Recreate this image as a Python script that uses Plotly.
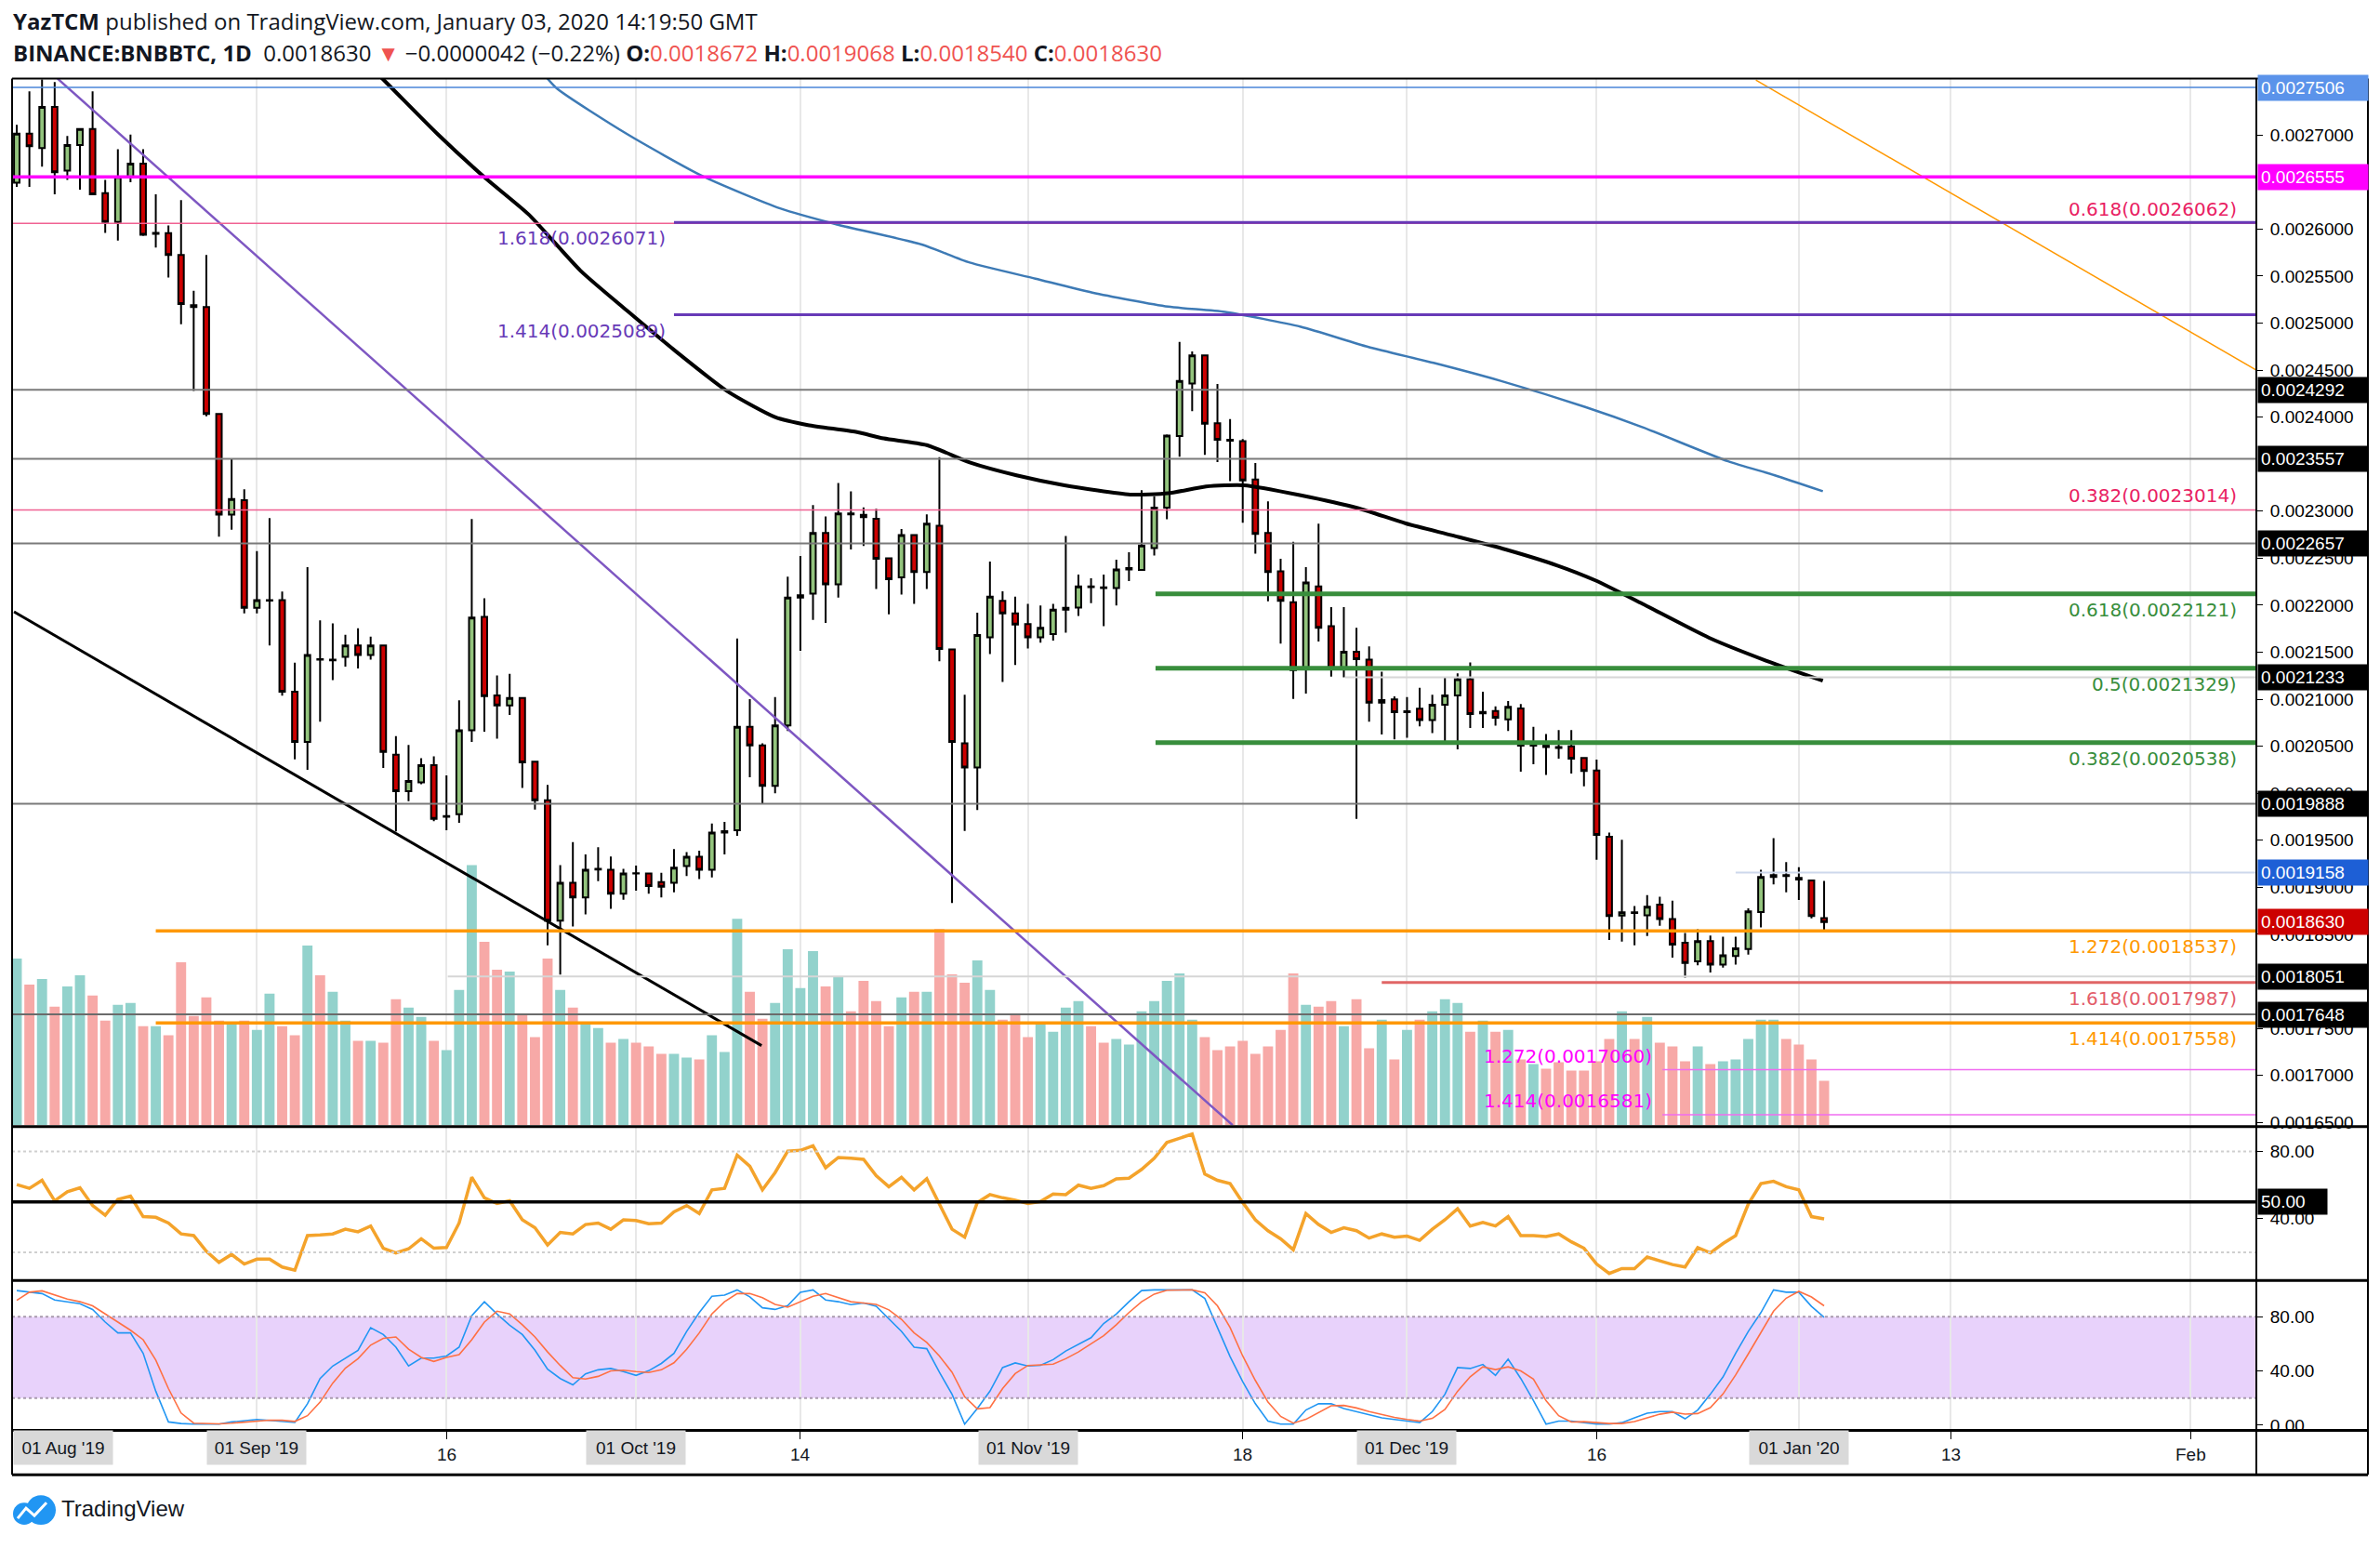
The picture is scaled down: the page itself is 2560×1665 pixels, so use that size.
import numpy as np
import pandas as pd
import plotly.graph_objects as go

W, H = 2560, 1665
START = pd.Timestamp("2019-08-13")
N = 144
dates = pd.date_range(START, periods=N, freq="D")

# ---------------- data (prices in units of 1e-7 BTC) ----------------
open_e7 = [26493, 27016, 26862, 27299, 26622, 26893, 27065, 26383, 26075, 26555,
           26696, 25950, 25958, 25725, 25190, 25171, 24034, 22963, 23117, 21973,
           22050, 22053, 21081, 20545, 21425, 21415, 21450, 21573, 21470, 21573,
           20411, 20023, 20116, 20299, 19750, 19777, 20669, 21876, 21040, 20935,
           21014, 20335, 19925, 18646, 19049, 18892, 19190, 19187, 18931, 19150,
           19148, 19056, 19049, 19226, 19325, 19187, 19581, 19607, 20706, 20509,
           20080, 20722, 22080, 22122, 22769, 22221, 22975, 22960, 22919, 22500,
           22297, 22746, 22352, 22845, 21529, 20531, 20275, 21658, 22047, 21913,
           21800, 21658, 21693, 21952, 21974, 22200, 22190, 22183, 22380, 22376,
           22607, 23037, 23800, 24359, 24657, 23935, 23759, 23744, 23336, 22769,
           22360, 22031, 21327, 22200, 21777, 21327, 21505, 21421, 20963, 20998,
           20862, 20899, 20778, 20942, 21040, 21214, 20850, 20876, 20785, 20902,
           20506, 20509, 20493, 20500, 20375, 20243, 19538, 18700, 18734, 18702,
           18817, 18663, 18410, 18213, 18427, 18177, 18269, 18344, 18738, 19111,
           19131, 19100, 19072, 18672]
high_e7 = [27108, 27465, 27590, 27563, 26991, 27065, 27465, 26524, 26850, 27004,
           26850, 26370, 26038, 26309, 25343, 25725, 24034, 23560, 23234, 22576,
           22926, 22145, 21390, 22405, 21838, 21807, 21686, 21755, 21666, 21573,
           20608, 20515, 20374, 20392, 20191, 20988, 22916, 22073, 21253, 21270,
           21014, 20335, 20089, 19236, 19482, 19351, 19426, 19328, 19197, 19230,
           19148, 19154, 19407, 19374, 19390, 19679, 19696, 21647, 21000, 20532,
           21024, 22303, 22523, 23064, 22943, 23300, 23212, 23041, 23025, 22500,
           22811, 22746, 22966, 23573, 21539, 21049, 21920, 22464, 22149, 22090,
           22014, 21997, 22014, 22736, 22326, 22287, 22326, 22484, 22562, 23223,
           23159, 23817, 24800, 24698, 24657, 24353, 23979, 23766, 23512, 23105,
           22495, 22675, 22405, 22867, 21981, 21981, 21760, 21563, 21293, 21031,
           21024, 21123, 21047, 21237, 21276, 21391, 21079, 20925, 20981, 20948,
           20706, 20630, 20673, 20673, 20375, 20358, 19581, 19505, 18800, 18918,
           18899, 18859, 18515, 18555, 18488, 18475, 18475, 18777, 19187, 19522,
           19269, 19213, 19072, 19068]
low_e7 = [26449, 26449, 26665, 26370, 26524, 26419, 26370, 25959, 25878, 26499,
          25927, 25804, 25485, 24987, 24279, 24009, 22730, 22803, 21913, 21913,
          21573, 21037, 20362, 20250, 20762, 21204, 21346, 21327, 21420, 20270,
          19594, 19915, 20097, 19704, 19606, 19685, 20545, 20656, 20581, 20834,
          20056, 19827, 18383, 18072, 18583, 18712, 19066, 18771, 18869, 18964,
          18931, 18892, 18948, 19121, 19089, 19105, 19351, 19548, 20171, 19892,
          20001, 20663, 21516, 21844, 21811, 22080, 22592, 22631, 22172, 21903,
          22113, 22015, 22172, 21404, 18833, 19600, 19822, 21480, 21185, 21364,
          21539, 21601, 21625, 21709, 21885, 22021, 21777, 21997, 22257, 22376,
          22528, 22913, 23580, 24064, 23598, 23522, 23320, 22878, 22549, 22041,
          21591, 21004, 21061, 21614, 21241, 21234, 19727, 20761, 20625, 20574,
          20591, 20712, 20640, 20522, 20466, 20695, 20695, 20719, 20663, 20230,
          20309, 20194, 20368, 20210, 20073, 19292, 18439, 18423, 18383, 18482,
          18590, 18252, 18039, 18170, 18095, 18147, 18177, 18285, 18574, 19030,
          18948, 18865, 18669, 18540]
close_e7 = [27016, 26881, 27299, 26604, 26893, 27065, 26370, 26075, 26555, 26696,
            25940, 25960, 25725, 25202, 25171, 24034, 22963, 23130, 21973, 22053,
            22055, 21081, 20545, 21470, 21420, 21420, 21573, 21470, 21573, 20440,
            20023, 20132, 20299, 19728, 19758, 20669, 21868, 21034, 20935, 21014,
            20328, 19925, 18646, 19049, 18892, 19187, 19197, 18931, 19148, 19148,
            19013, 19007, 19210, 19325, 19187, 19581, 19597, 20706, 20509, 20080,
            20722, 22080, 22107, 22769, 22221, 22975, 22966, 22936, 22493, 22277,
            22746, 22352, 22867, 21534, 20547, 20275, 21683, 22090, 21913, 21795,
            21658, 21760, 21952, 21972, 22200, 22193, 22183, 22380, 22395, 22634,
            23037, 23804, 24385, 24657, 23929, 23759, 23749, 23326, 22759, 22352,
            22047, 21309, 22241, 21760, 21327, 21505, 21427, 20963, 20991, 20862,
            20872, 20778, 20942, 21040, 21214, 20843, 20866, 20804, 20919, 20506,
            20509, 20493, 20483, 20368, 20237, 19558, 18695, 18734, 18728, 18794,
            18663, 18390, 18196, 18427, 18177, 18276, 18350, 18744, 19111, 19131,
            19121, 19082, 18695, 18630]
volume_k = [180, 152, 158, 128, 150, 162, 140, 113, 130, 132,
            107, 107, 97, 176, 118, 138, 113, 111, 113, 103,
            142, 107, 97, 194, 162, 144, 113, 91, 91, 89,
            136, 127, 117, 91, 81, 146, 281, 198, 168, 166,
            119, 95, 180, 146, 127, 111, 105, 89, 93, 89,
            85, 77, 77, 73, 71, 97, 79, 223, 144, 115,
            132, 190, 148, 188, 150, 160, 123, 156, 134, 107,
            138, 144, 144, 212, 163, 154, 178, 146, 114, 120,
            95, 111, 101, 127, 134, 107, 89, 93, 87, 123,
            134, 156, 164, 114, 95, 81, 85, 91, 77, 85,
            103, 164, 130, 128, 134, 107, 136, 83, 114, 71,
            103, 114, 123, 136, 132, 101, 113, 101, 103, 71,
            66, 61, 68, 59, 59, 69, 93, 123, 93, 117,
            89, 85, 69, 85, 66, 69, 71, 93, 114, 114,
            93, 87, 71, 48]
rsi = [60.3, 58, 62.8, 50.6, 56, 58.4, 47.8, 42, 51.5, 53.4,
       41.2, 40.8, 37.4, 30.9, 29.9, 20.6, 14, 18.7, 13, 15.9,
       15.9, 11.2, 9.3, 29.9, 30.3, 30.9, 33.7, 32.2, 35.6, 22.4,
       19.6, 22, 28, 22.4, 22.8, 37.4, 64.6, 52.4, 49, 50.6,
       39.3, 34.6, 24.3, 31.8, 30.9, 36.5, 37.4, 33.7, 39.3, 38.9,
       37, 37.4, 44, 47.8, 43, 57.1, 58, 77.8, 71.2, 57.1,
       67.4, 80.2, 80.6, 83.4, 70.3, 76.4, 75.9, 75.3, 65.6, 59,
       64.6, 57.1, 63.7, 48.7, 33.7, 29, 49.6, 54.3, 52.4, 51,
       49, 50.2, 54.7, 54.3, 59.9, 58, 59.6, 63.7, 64.1, 69.3,
       75.9, 85.3, 88, 90.3, 66.5, 62.8, 60.9, 49.6, 39.3, 32.8,
       28, 21.5, 43, 36.5, 31.8, 34.6, 32.8, 28.4, 30.9, 29,
       29.6, 27.1, 33.7, 39.3, 45.9, 35.6, 37.8, 35.6, 41.2, 29.9,
       29.9, 29.4, 30.9, 26.2, 22.4, 13, 7.4, 10.3, 10.3, 17.2,
       14.9, 12.7, 11.2, 22.8, 19.6, 25.2, 29.9, 48.7, 60.9, 62.2,
       59, 57.1, 41.2, 39.9]
stoch_k = [99.2, 98, 97, 92.3, 91, 89.5, 85.3, 76, 68, 68,
           53, 25, 2.4, 1.2, 0.8, 0.8, 0.8, 2.4, 3.5, 4.2,
           3.5, 3, 2, 15.8, 34.4, 43.6, 49.4, 55.2, 71.9, 66.8,
           57.5, 43.6, 49.4, 49.4, 51, 57.5, 80.7, 91, 81.9, 73.7,
           66.8, 55.2, 41.3, 34.4, 29.7, 37.8, 40.8, 41.8, 39.5, 36.7,
           40.1, 45.5, 52.9, 69.1, 83, 95, 95.8, 99.7, 94.6, 86.5,
           85.3, 88.1, 98, 99.7, 92.3, 91, 88.8, 90, 87.6, 78.4,
           69.1, 57.5, 56.4, 39, 22.8, 0.8, 12.3, 25.1, 42.5, 45.9,
           43.6, 44.1, 48.3, 54.7, 59.8, 64.5, 74.9, 81.9, 91, 99.2,
           99.7, 99.7, 99.7, 99.7, 93.4, 71.4, 50.6, 32, 15.8, 3,
           0.8, 0.8, 11.2, 15.8, 15.8, 12.3, 10, 7.7, 5.4, 4.2,
           3, 1.9, 10, 22.8, 42.5, 41.8, 44.8, 36.7, 48.7, 34.4,
           18.2, 0.8, 3, 3, 1.9, 0.8, 0.8, 1.9, 5.4, 8.9,
           10, 10, 4.7, 11.2, 22.8, 35.5, 52.9, 69.1, 83, 99.7,
           98, 98, 87.6, 79.5]
stoch_d = [92, 98, 99, 96, 93, 91, 88, 82, 76, 70,
           63, 48, 27, 9, 1.5, 1, 1, 1.5, 2.2, 3.4,
           3.7, 3.6, 2.8, 7, 17, 31, 42, 49, 59, 64,
           65, 56, 50, 47, 50, 52, 63, 76, 84, 82,
           74, 65, 54, 44, 35, 34, 36, 40, 40.5, 39.5,
           38.8, 40.8, 46, 56, 68, 82, 91, 97, 97, 94,
           89, 87, 91, 95, 97, 94, 91, 90, 89, 85,
           78, 68, 61, 51, 39, 21, 12, 13, 27, 38,
           44, 44.5, 45, 49, 54, 60, 66, 74, 83, 91,
           96.6, 99.5, 99.7, 99.7, 97.6, 88, 72, 51, 33, 17,
           6.5, 1.5, 4.3, 9.3, 14.3, 14.6, 12.7, 10, 7.7, 5.8,
           4.2, 3, 5, 11.6, 25, 35.7, 43, 41, 43, 40,
           34, 18, 7, 2.3, 2.6, 1.9, 1.2, 1.2, 2.7, 5.4,
           8.1, 9.6, 8.2, 8.6, 12.9, 23, 37, 52.5, 68, 84,
           93.6, 98.6, 94.5, 88]

# moving averages (x = days after first candle)
ma_black_day = [28.0, 29.2, 33.3, 37.1, 40.5, 44.6, 48.3, 52.1, 56.2, 60.0, 62.6, 66.4,
                68.6, 72.0, 75.4, 79.1, 82.9, 88.1, 91.1, 94.1, 97.1, 101.6, 106.1,
                109.9, 113.6, 117.8, 121.9, 124.9, 128.6, 133.9, 138.4, 142.9]
ma_black_e7 = [27720, 27564, 27010, 26540, 26156, 25558, 25131, 24705, 24278, 24001, 23916,
               23843, 23774, 23703, 23519, 23382, 23276, 23177, 23190, 23263, 23276, 23169,
               23033, 22870, 22742, 22593, 22422, 22264, 22017, 21654, 21411, 21197]
ma_blue_day = [41.5, 42.7, 48.3, 54.3, 60.4, 64.9, 71.6, 75.4, 80.6, 85.1, 91.1, 95.6,
               101.6, 106.9, 112.1, 117.4, 124.1, 128.6, 135.4, 139.1, 142.9]
ma_blue_e7 = [27680, 27500, 27010, 26561, 26220, 26049, 25836, 25644, 25473, 25324, 25175,
              25119, 24961, 24748, 24577, 24386, 24108, 23895, 23531, 23382, 23212]

# trend lines (day offset, price e7)
trend_purple = [(3.23, 27600), (96.2, 16471)]
trend_black = [(-0.22, 21930), (58.93, 17317)]
trend_orange = [(137.6, 27585), (177.2, 24500)]

# price-axis ticks (those fully hidden under price tags in the reference are left out)
price_ticks = [0.00165, 0.0017, 0.00175, 0.00185, 0.0019, 0.00195, 0.002,
               0.00205, 0.0021, 0.00215, 0.0022, 0.00225, 0.0023, 0.0024,
               0.00245, 0.0025, 0.00255, 0.0026, 0.0027]

month_labels = ["01 Sep '19", "01 Oct '19", "01 Nov '19", "01 Dec '19", "01 Jan '20"]
month_dates = ["2019-09-01", "2019-10-01", "2019-11-01", "2019-12-01", "2020-01-01"]
day_labels = ["16", "14", "18", "16", "13", "Feb"]
day_dates = ["2019-09-16", "2019-10-14", "2019-11-18", "2019-12-16", "2020-01-13", "2020-02-01"]

# ---------------- helpers ----------------
E7 = 1e-7
o = np.array(open_e7) * E7
hi = np.array(high_e7) * E7
lo = np.array(low_e7) * E7
c = np.array(close_e7) * E7


def day(d):
    return START + pd.to_timedelta(d, unit="D")


def fx(px):
    return px / W


def fy(py):
    return 1 - py / H


X0 = day(-0.37)
X1 = day(177.2)
X_DOM = [fx(13), fx(2427)]
MAIN_DOM = [fy(1216), fy(85)]
RSI_DOM = [fy(1383), fy(1219)]
STO_DOM = [fy(1545), fy(1385)]
P_RANGE = [0.0016471, 0.00276]

AX_FONT = dict(family="Liberation Sans", size=19, color="#000000")

fig = go.Figure()

vol_colors = ["#92d2cc" if cc >= oo else "#f7a9a7" for oo, cc in zip(o, c)]
fig.add_trace(go.Bar(x=dates, y=volume_k, marker=dict(color=vol_colors, line=dict(width=0)),
                     xaxis="x", yaxis="y", hoverinfo="skip"))

fig.add_trace(go.Candlestick(
    x=dates, open=o, high=hi, low=lo, close=c, xaxis="x", yaxis="y2",
    increasing=dict(line=dict(color="#000000", width=2), fillcolor="#93c47d"),
    decreasing=dict(line=dict(color="#000000", width=2), fillcolor="#cc0000"),
    whiskerwidth=0))

fig.add_trace(go.Scatter(x=day(np.array(ma_blue_day)), y=np.array(ma_blue_e7) * E7,
                         mode="lines", line=dict(color="#3d7ab5", width=2.5, shape="spline", smoothing=0.6),
                         xaxis="x", yaxis="y2"))
fig.add_trace(go.Scatter(x=day(np.array(ma_black_day)), y=np.array(ma_black_e7) * E7,
                         mode="lines", line=dict(color="#000000", width=4, shape="spline", smoothing=0.6),
                         xaxis="x", yaxis="y2"))

for pts, col, wd in [(trend_purple, "#7e57c2", 2.5), (trend_black, "#000000", 3),
                     (trend_orange, "#ff9800", 1.5)]:
    fig.add_trace(go.Scatter(x=[day(p[0]) for p in pts], y=[p[1] * E7 for p in pts],
                             mode="lines", line=dict(color=col, width=wd),
                             xaxis="x", yaxis="y2"))

fig.add_trace(go.Scatter(x=dates, y=rsi, mode="lines", line=dict(color="#f4a32b", width=3.5),
                         xaxis="x2", yaxis="y3"))
fig.add_trace(go.Scatter(x=dates, y=stoch_k, mode="lines", line=dict(color="#2196f3", width=1.6),
                         xaxis="x3", yaxis="y4"))
fig.add_trace(go.Scatter(x=dates, y=stoch_d, mode="lines", line=dict(color="#ff7043", width=1.6),
                         xaxis="x3", yaxis="y4"))

shapes = []
# stoch band
shapes.append(dict(type="rect", xref="paper", yref="y4", x0=X_DOM[0], x1=X_DOM[1], y0=20, y1=80,
                   fillcolor="#e8d2fb", line=dict(width=0), layer="below"))
for lvl in (20, 80):
    shapes.append(dict(type="line", xref="paper", yref="y4", x0=X_DOM[0], x1=X_DOM[1], y0=lvl, y1=lvl,
                       line=dict(color="#a99aae", width=2, dash="dot")))
    shapes.append(dict(type="line", xref="paper", yref="y3", x0=X_DOM[0], x1=X_DOM[1], y0=lvl, y1=lvl,
                       line=dict(color="#cfcfcf", width=2, dash="dot")))
shapes.append(dict(type="line", xref="paper", yref="y3", x0=X_DOM[0], x1=fx(2427), y0=50, y1=50,
                   line=dict(color="#000000", width=3.5)))

# horizontal price levels: (price, start day or None, colour, width)
levels = [
    (0.0027506, None, "#4a86d8", 1.5),
    (0.0026555, None, "#ff00ff", 3.5),
    (0.0026062, None, "#f06292", 1.5),
    (0.0026071, 52.0, "#673ab7", 3),
    (0.0025089, 52.0, "#673ab7", 3),
    (0.0024292, None, "#7a7a7a", 2),
    (0.0023557, None, "#7a7a7a", 2),
    (0.0023014, None, "#f06292", 1.5),
    (0.0022657, None, "#7a7a7a", 2),
    (0.0022121, 90.1, "#388e3c", 5),
    (0.0021329, 90.1, "#388e3c", 5),
    (0.0020538, 90.1, "#388e3c", 5),
    (0.0021233, 105.1, "#d6d6d6", 2),
    (0.0019888, None, "#7a7a7a", 2),
    (0.0019158, 136.0, "#cdd8ec", 2),
    (0.0018537, 11.0, "#ff9800", 3.5),
    (0.0018051, 34.1, "#d6d6d6", 2),
    (0.0017987, 108.0, "#e06666", 3),
    (0.0017648, None, "#6b6b6b", 2),
    (0.0017558, 11.0, "#ff9800", 3.5),
    (0.0017060, 130.2, "#f06cf0", 1.5),
    (0.0016581, 130.2, "#f06cf0", 1.5),
]
for price, sd, col, wd in levels:
    xs = X0 if sd is None else day(sd)
    shapes.append(dict(type="line", xref="x", yref="y2", x0=xs, x1=X1, y0=price, y1=price,
                       line=dict(color=col, width=wd)))

# frame / panel separators
def hline(py, x0=13, x1=2547, w=2.5):
    return dict(type="line", xref="paper", yref="paper", x0=fx(x0), x1=fx(x1), y0=fy(py), y1=fy(py),
                line=dict(color="#000000", width=w))


def vline(px, y0=85, y1=1594, w=2):
    return dict(type="line", xref="paper", yref="paper", x0=fx(px), x1=fx(px), y0=fy(y0), y1=fy(y1),
                line=dict(color="#000000", width=w))


shapes += [hline(85, w=2), hline(1217.5, w=3), hline(1384, w=3), hline(1546, w=3), hline(1594, w=3),
           vline(13), vline(2427), vline(2547)]

# logo icon
shapes += [
    dict(type="circle", xref="paper", yref="paper", x0=fx(14), x1=fx(38), y0=fy(1648), y1=fy(1624),
         fillcolor="#2196f3", line=dict(width=0)),
    dict(type="circle", xref="paper", yref="paper", x0=fx(28), x1=fx(60), y0=fy(1648), y1=fy(1616),
         fillcolor="#2196f3", line=dict(width=0)),
    dict(type="path", xref="paper", yref="paper",
         path=f"M {fx(19)},{fy(1641)} L {fx(28)},{fy(1630)} L {fx(37)},{fy(1638)} L {fx(50)},{fy(1624)}",
         line=dict(color="#ffffff", width=3)),
]

ann = []
# header
HDR_FONT = dict(family="Open Sans", size=24, color="#131722")
ann.append(dict(xref="paper", yref="paper", x=fx(12), y=fy(23), xanchor="left", yanchor="middle",
                showarrow=False, font=HDR_FONT,
                text="<b>YazTCM</b> published on TradingView.com, January 03, 2020 14:19:50 GMT"))
red = "#ef5350"
ann.append(dict(xref="paper", yref="paper", x=fx(12), y=fy(57), xanchor="left", yanchor="middle",
                showarrow=False, font=HDR_FONT,
                text=("<b>BINANCE:BNBBTC, 1D</b>  0.0018630 <span style='color:%s'>▼</span> "
                      "−0.0000042 (−0.22%%) <b>O:</b><span style='color:%s'>0.0018672</span> "
                      "<b>H:</b><span style='color:%s'>0.0019068</span> "
                      "<b>L:</b><span style='color:%s'>0.0018540</span> "
                      "<b>C:</b><span style='color:%s'>0.0018630</span>") % (red, red, red, red, red)))

# right axis highlighted price labels
price_tags = [(0.0027506, "#5b93ea"), (0.0026555, "#ff00ff"), (0.0024292, "#000000"),
              (0.0023557, "#000000"), (0.0022657, "#000000"), (0.0021233, "#000000"),
              (0.0019888, "#000000"), (0.0019158, "#1d5fd6"), (0.0018630, "#cc0000"),
              (0.0018051, "#000000"), (0.0017648, "#000000")]
for price, bg in price_tags:
    ann.append(dict(xref="paper", yref="y2", x=fx(2428), y=price, xanchor="left", yanchor="middle",
                    showarrow=False, text=f"{price:.7f}", bgcolor=bg, width=112, align="left",
                    borderpad=3, font=dict(family="Liberation Sans", size=19, color="#ffffff")))
ann.append(dict(xref="paper", yref="y3", x=fx(2428), y=50, xanchor="left", yanchor="middle",
                showarrow=False, text="50.00", bgcolor="#000000", width=68, align="left",
                borderpad=3, font=dict(family="Liberation Sans", size=19, color="#ffffff")))

# fib labels: (text, price, colour, above?, right edge px)
fib_labels = [
    ("0.618(0.0026062)", 0.0026062, "#e91e63", True, 2408),
    ("0.382(0.0023014)", 0.0023014, "#e91e63", True, 2408),
    ("0.618(0.0022121)", 0.0022121, "#388e3c", False, 2408),
    ("0.5(0.0021329)", 0.0021329, "#388e3c", False, 2408),
    ("0.382(0.0020538)", 0.0020538, "#388e3c", False, 2408),
    ("1.272(0.0018537)", 0.0018537, "#ff9800", False, 2408),
    ("1.618(0.0017987)", 0.0017987, "#e35d6a", False, 2408),
    ("1.414(0.0017558)", 0.0017558, "#ff9800", False, 2408),
    ("1.618(0.0026071)", 0.0026071, "#673ab7", False, 718),
    ("1.414(0.0025089)", 0.0025089, "#673ab7", False, 718),
    ("1.272(0.0017060)", 0.0017060, "#ff00ff", True, 1779),
    ("1.414(0.0016581)", 0.0016581, "#ff00ff", True, 1779),
]
for txt, price, col, above, rx in fib_labels:
    ann.append(dict(xref="paper", yref="y2", x=fx(rx), y=price, xanchor="right",
                    yanchor="bottom" if above else "top", yshift=1 if above else -3,
                    showarrow=False, text=txt,
                    font=dict(family="DejaVu Sans", size=20, color=col)))

# date axis labels
DATE_FONT = dict(family="Liberation Sans", size=19, color="#131722")
ann.append(dict(xref="paper", yref="paper", x=fx(14), y=fy(1565), xanchor="left", yanchor="middle",
                showarrow=False, text="01 Aug '19", bgcolor="#d9d9d9", width=104, height=34,
                font=DATE_FONT))
for lab, d in zip(month_labels, month_dates):
    ann.append(dict(xref="x", yref="paper", x=d, y=fy(1565), xanchor="center", yanchor="middle",
                    showarrow=False, text=lab, bgcolor="#d9d9d9", width=104, height=34,
                    font=DATE_FONT))
for lab, d in zip(day_labels, day_dates):
    ann.append(dict(xref="x", yref="paper", x=d, y=fy(1572), xanchor="center", yanchor="middle",
                    showarrow=False, text=lab, font=DATE_FONT))

# logo text
ann.append(dict(xref="paper", yref="paper", x=fx(64), y=fy(1630), xanchor="left", yanchor="middle",
                showarrow=False, text="TradingView",
                font=dict(family="Liberation Sans", size=24, color="#131722")))

grid_dates = sorted(month_dates + day_dates)
xcommon = dict(type="date", range=[X0, X1], domain=X_DOM, showticklabels=False,
               tickvals=grid_dates, showgrid=True, gridcolor="#e8e8e8", gridwidth=2,
               zeroline=False, showline=False)

fig.update_layout(
    width=W, height=H, margin=dict(l=0, r=0, t=0, b=0),
    paper_bgcolor="#ffffff", plot_bgcolor="rgba(0,0,0,0)",
    showlegend=False, bargap=0.2, boxgap=0.38, hovermode=False,
    xaxis=dict(**xcommon, anchor="y", ticks="", rangeslider=dict(visible=False)),
    xaxis2=dict(**xcommon, anchor="y3", matches="x", ticks=""),
    xaxis3=dict(**xcommon, anchor="y4", matches="x", ticks="outside", ticklen=9,
                tickcolor="#000000", tickwidth=1),
    yaxis=dict(domain=MAIN_DOM, range=[0, 1131], visible=False, fixedrange=True),
    yaxis2=dict(overlaying="y", anchor="x", side="right", range=P_RANGE, tickvals=price_ticks,
                tickformat=".7f", ticks="outside", ticklen=6, tickcolor="#000000",
                tickfont=AX_FONT, showgrid=False, zeroline=False, showline=False,
                ticklabelstandoff=4),
    yaxis3=dict(domain=RSI_DOM, anchor="x2", side="right", range=[3.7, 94.0], tickvals=[40, 80],
                ticktext=["40.00", "80.00"], ticks="outside", ticklen=6, tickcolor="#000000",
                tickfont=AX_FONT, showgrid=False, zeroline=False, showline=False,
                ticklabelstandoff=4),
    yaxis4=dict(domain=STO_DOM, anchor="x3", side="right", range=[-3.2, 105.9],
                tickvals=[0, 40, 80], ticktext=["0.00", "40.00", "80.00"], ticks="outside",
                ticklen=6, tickcolor="#000000", tickfont=AX_FONT, showgrid=False,
                zeroline=False, showline=False, ticklabelstandoff=4),
    shapes=shapes, annotations=ann,
)

fig.write_html("out.html")
